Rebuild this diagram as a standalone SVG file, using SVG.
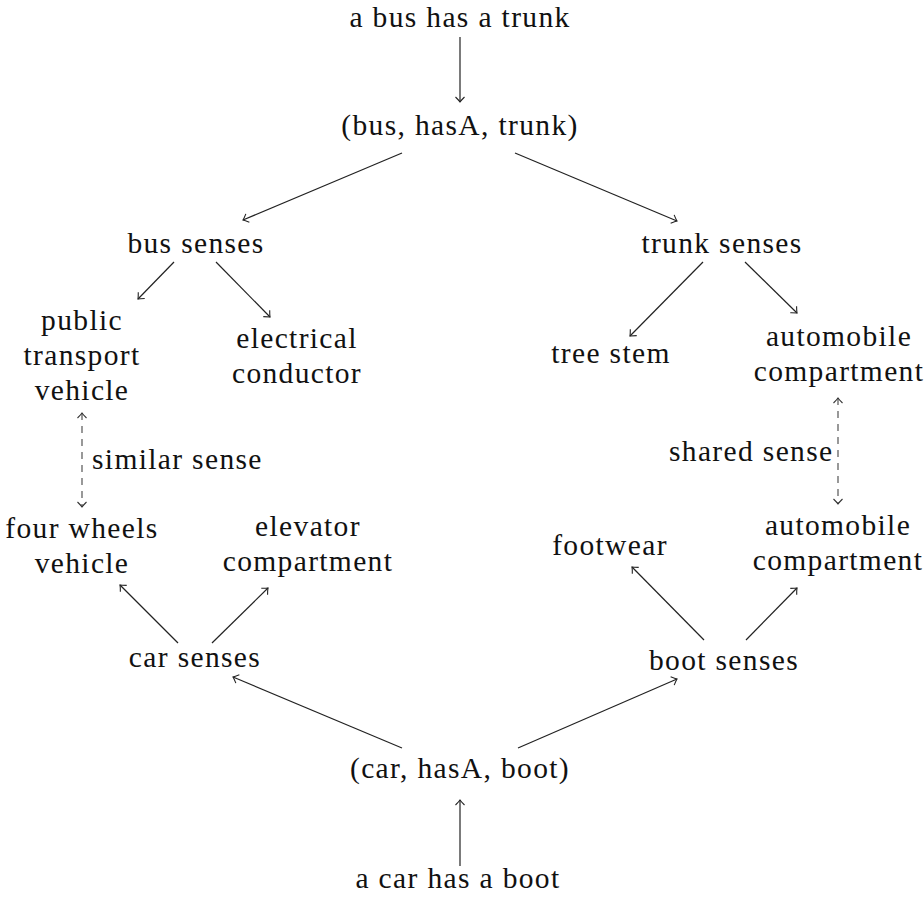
<svg xmlns="http://www.w3.org/2000/svg" width="924" height="903" viewBox="0 0 924 903">
  <style>
    text { font-family: "Liberation Serif", "DejaVu Serif", serif; font-size: 29.5px; letter-spacing: 1.35px; fill: #111; text-anchor: middle; }
    .label { text-anchor: start; }
    .edge { fill: none; stroke: #222; stroke-width: 1.2; marker-end: url(#tip); }
    .dashed { fill: none; stroke: #555; stroke-width: 1.2; stroke-dasharray: 7 6; marker-start: url(#tipgray); marker-end: url(#tipgray); }
  </style>
  <defs>
    <marker id="tip" markerUnits="userSpaceOnUse" viewBox="-6 -6 8 12" refX="0" refY="0" markerWidth="8" markerHeight="12" orient="auto">
      <path d="M -5 -4.5 Q -1.5 -1 0 0 Q -1.5 1 -5 4.5" fill="none" stroke="#222" stroke-width="1.1"/>
    </marker>
    <marker id="tipgray" markerUnits="userSpaceOnUse" viewBox="-6 -6 8 12" refX="0" refY="0" markerWidth="8" markerHeight="12" orient="auto-start-reverse">
      <path d="M -5 -4.5 Q -1.5 -1 0 0 Q -1.5 1 -5 4.5" fill="none" stroke="#333" stroke-width="1.1"/>
    </marker>
  </defs>

  <rect width="924" height="903" fill="#fff"/>

  <!-- connectors -->
  <g id="connectors">
    <line class="edge" x1="460" y1="37" x2="460" y2="102"/>
    <line class="edge" x1="402" y1="153" x2="243" y2="220"/>
    <line class="edge" x1="515" y1="153" x2="677" y2="221"/>
    <line class="edge" x1="174" y1="262" x2="138" y2="299"/>
    <line class="edge" x1="216" y1="262" x2="270" y2="317"/>
    <line class="edge" x1="703" y1="262" x2="630" y2="336"/>
    <line class="edge" x1="745" y1="262" x2="797" y2="313"/>
    <line class="dashed" x1="82" y1="413" x2="82" y2="507"/>
    <line class="dashed" x1="838" y1="398" x2="838" y2="504"/>
    <line class="edge" x1="178" y1="643" x2="120" y2="585"/>
    <line class="edge" x1="212" y1="643" x2="268" y2="588"/>
    <line class="edge" x1="704" y1="640" x2="632" y2="567"/>
    <line class="edge" x1="746" y1="640" x2="797" y2="588"/>
    <line class="edge" x1="402" y1="748" x2="233" y2="677"/>
    <line class="edge" x1="518" y1="748" x2="677" y2="679"/>
    <line class="edge" x1="460" y1="866" x2="460" y2="800"/>
    <text class="label" x="92" y="469">similar sense</text>
    <text class="label" x="669" y="461">shared sense</text>
  </g>

  <!-- nodes -->
  <g id="bus-sentence"><text x="460" y="26.5">a bus has a trunk</text></g>
  <g id="bus-triple"><text x="460" y="135">(bus, hasA, trunk)</text></g>
  <g id="bus-senses"><text x="196" y="253">bus senses</text></g>
  <g id="trunk-senses"><text x="722" y="253">trunk senses</text></g>
  <g id="public-transport">
    <text x="82" y="330">public</text>
    <text x="82" y="365">transport</text>
    <text x="82" y="400">vehicle</text>
  </g>
  <g id="electrical-conductor">
    <text x="297" y="348">electrical</text>
    <text x="297" y="383">conductor</text>
  </g>
  <g id="tree-stem"><text x="611" y="363">tree stem</text></g>
  <g id="trunk-automobile">
    <text x="839" y="346">automobile</text>
    <text x="839" y="381">compartment</text>
  </g>
  <g id="four-wheels">
    <text x="82" y="538">four wheels</text>
    <text x="82" y="573">vehicle</text>
  </g>
  <g id="elevator">
    <text x="308" y="536">elevator</text>
    <text x="308" y="571">compartment</text>
  </g>
  <g id="footwear"><text x="610" y="555">footwear</text></g>
  <g id="boot-automobile">
    <text x="838" y="535">automobile</text>
    <text x="838" y="570">compartment</text>
  </g>
  <g id="car-senses"><text x="195" y="667">car senses</text></g>
  <g id="boot-senses"><text x="724" y="670">boot senses</text></g>
  <g id="car-triple"><text x="460" y="778">(car, hasA, boot)</text></g>
  <g id="car-sentence"><text x="458" y="888">a car has a boot</text></g>
</svg>
